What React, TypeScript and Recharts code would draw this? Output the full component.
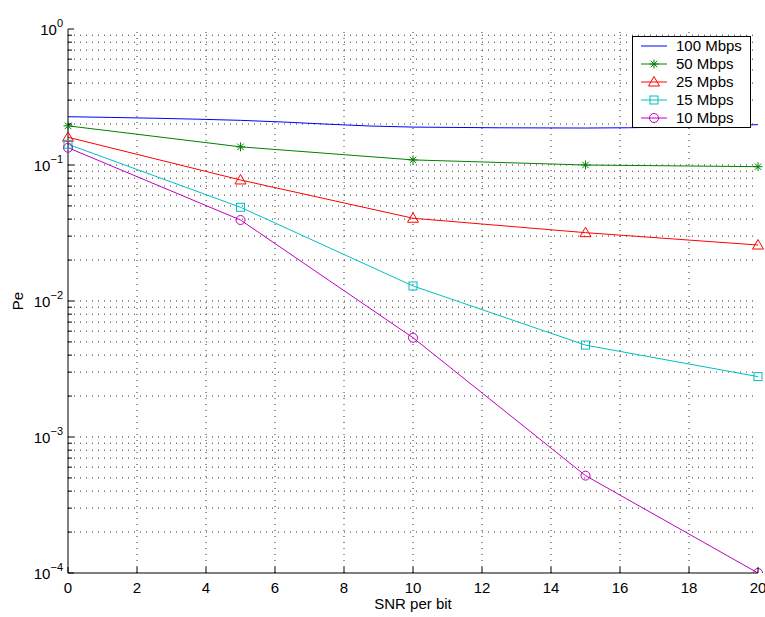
import React from "react"
import { LineChart, Line, XAxis, YAxis, ReferenceLine, Legend } from "recharts"

// SNR per bit (dB) and Pe
const snr = [0, 5, 10, 15, 20]
const pe100 = [0.2265, 0.213, 0.19, 0.187, 0.198]
const pe50 = [0.194, 0.136, 0.109, 0.1, 0.0972]
const pe25 = [0.16, 0.0776, 0.0406, 0.0318, 0.0258]
const pe15 = [0.142, 0.0489, 0.0129, 0.00474, 0.00278]
const pe10 = [0.134, 0.0394, 0.00537, 0.00052, 0.0001]

const xTicks = [0, 2, 4, 6, 8, 10, 12, 14, 16, 18, 20]
const decades = [-4, -3, -2, -1, 0]
const yTicks = decades.flatMap(d =>
  d === 0 ? [1] : [1, 2, 3, 4, 5, 6, 7, 8, 9].map(m => m * Math.pow(10, d))
)

const FONT = "'Liberation Sans', Arial, Helvetica, sans-serif"
const FS = 15

type MarkerKind = "none" | "star" | "triangle" | "square" | "circle"

const series: { key: string; name: string; color: string; marker: MarkerKind; values: number[] }[] = [
  { key: "r100", name: "100 Mbps", color: "#0000ff", marker: "none", values: pe100 },
  { key: "r50", name: "50 Mbps", color: "#008000", marker: "star", values: pe50 },
  { key: "r25", name: "25 Mpbs", color: "#ff0000", marker: "triangle", values: pe25 },
  { key: "r15", name: "15 Mbps", color: "#00bfbf", marker: "square", values: pe15 },
  { key: "r10", name: "10 Mbps", color: "#bf00bf", marker: "circle", values: pe10 }
]

const chartData = snr.map((x, i) => {
  const row: Record<string, number> = { snr: x }
  series.forEach(s => {
    row[s.key] = s.values[i]
  })
  return row
})

function Marker({ kind, cx, cy, color }: { kind: MarkerKind; cx: number; cy: number; color: string }) {
  if (kind === "star") {
    const r = 4.5
    const d = r * 0.72
    return (
      <g stroke={color} strokeWidth={1}>
        <line x1={cx - r} y1={cy} x2={cx + r} y2={cy} />
        <line x1={cx} y1={cy - r} x2={cx} y2={cy + r} />
        <line x1={cx - d} y1={cy - d} x2={cx + d} y2={cy + d} />
        <line x1={cx - d} y1={cy + d} x2={cx + d} y2={cy - d} />
      </g>
    )
  }
  if (kind === "triangle") {
    return (
      <polygon
        points={`${cx},${cy - 5.5} ${cx + 5.5},${cy + 4} ${cx - 5.5},${cy + 4}`}
        fill="none"
        stroke={color}
        strokeWidth={1}
      />
    )
  }
  if (kind === "square") {
    return <rect x={cx - 4} y={cy - 4} width={8} height={8} fill="none" stroke={color} strokeWidth={1} />
  }
  if (kind === "circle") {
    return <circle cx={cx} cy={cy} r={4.5} fill="none" stroke={color} strokeWidth={1} />
  }
  return null
}

function isDecade(v: number) {
  const l = Math.log10(v)
  return Math.abs(l - Math.round(l)) < 1e-6
}

function LeftTick(props: any) {
  const { x, y, payload } = props
  const v = payload.value
  const major = isDecade(v)
  const e = Math.round(Math.log10(v))
  return (
    <g>
      <line x1={x} y1={y} x2={x + (major ? 6 : 4)} y2={y} stroke="#000" />
      {major && (
        <text x={x - 5} y={y + 5.5} textAnchor="end" fontFamily={FONT} fontSize={FS} fill="#000">
          10
          <tspan dy={-8} fontSize={11}>
            {e === 0 ? "0" : "\u2212" + -e}
          </tspan>
        </text>
      )}
    </g>
  )
}

function RightTick(props: any) {
  const { x, y, payload } = props
  const major = isDecade(payload.value)
  return <line x1={x} y1={y} x2={x - (major ? 6 : 4)} y2={y} stroke="#000" />
}

function BottomTick(props: any) {
  const { x, y, payload } = props
  return (
    <g>
      <line x1={x} y1={y} x2={x} y2={y - 6} stroke="#000" />
      <text x={x} y={y + 20} textAnchor="middle" fontFamily={FONT} fontSize={FS} fill="#000">
        {payload.value}
      </text>
    </g>
  )
}

function TopTick(props: any) {
  const { x, y } = props
  return <line x1={x} y1={y} x2={x} y2={y + 6} stroke="#000" />
}

function LegendBox() {
  return (
    <div
      style={{
        border: "1px solid #000",
        background: "#fff",
        fontFamily: FONT,
        fontSize: FS,
        color: "#000",
        width: 117,
        boxSizing: "content-box"
      }}
    >
      {series.map(s => (
        <div key={s.key} style={{ display: "flex", alignItems: "center", height: 18 }}>
          <svg width={43} height={18} style={{ display: "block", flexShrink: 0 }}>
            <line x1={8} y1={9} x2={34} y2={9} stroke={s.color} strokeWidth={1} />
            <Marker kind={s.marker} cx={21} cy={9} color={s.color} />
          </svg>
          <span style={{ lineHeight: "18px", whiteSpace: "nowrap" }}>{s.name}</span>
        </div>
      ))}
    </div>
  )
}

export default function App() {
  return (
    <div style={{ position: "absolute", left: 0, top: 0, background: "#fff" }}>
      <LineChart
        width={765}
        height={617}
        data={chartData}
        margin={{ top: 29, right: 7, bottom: 0, left: 0 }}
      >
        <XAxis
          xAxisId="bottom"
          dataKey="snr"
          type="number"
          domain={[0, 20]}
          ticks={xTicks}
          interval={0}
          height={44}
          tickLine={false}
          tickSize={0}
          tickMargin={0}
          tick={<BottomTick />}
          axisLine={{ stroke: "#000" }}
          label={(p: any) => (
            <text
              x={p.viewBox.x + p.viewBox.width / 2}
              y={p.viewBox.y + 36}
              textAnchor="middle"
              fontFamily={FONT}
              fontSize={FS}
              fill="#000"
            >
              SNR per bit
            </text>
          )}
        />
        <XAxis
          xAxisId="top"
          orientation="top"
          dataKey="snr"
          type="number"
          domain={[0, 20]}
          ticks={xTicks}
          interval={0}
          height={0}
          tickLine={false}
          tickSize={0}
          tickMargin={0}
          tick={<TopTick />}
          axisLine={{ stroke: "#000" }}
          label={(p: any) => (
            <text
              x={p.viewBox.x + p.viewBox.width / 2}
              y={18}
              textAnchor="middle"
              fontFamily={FONT}
              fontSize={FS}
              fill="#000"
            >
              Pe vs. SNR in single{"\u2212"}band design, 3 rake fingers
            </text>
          )}
        />
        <YAxis
          yAxisId="left"
          scale="log"
          domain={[0.0001, 1]}
          ticks={yTicks}
          interval={0}
          allowDataOverflow
          width={68}
          tickLine={false}
          tickSize={0}
          tickMargin={0}
          tick={<LeftTick />}
          axisLine={{ stroke: "#000" }}
          label={(p: any) => (
            <text
              x={23}
              y={p.viewBox.y + p.viewBox.height / 2}
              transform={`rotate(-90, 23, ${p.viewBox.y + p.viewBox.height / 2})`}
              textAnchor="middle"
              fontFamily={FONT}
              fontSize={FS}
              fill="#000"
            >
              Pe
            </text>
          )}
        />
        <YAxis
          yAxisId="right"
          orientation="right"
          scale="log"
          domain={[0.0001, 1]}
          ticks={yTicks}
          interval={0}
          allowDataOverflow
          width={0}
          tickLine={false}
          tickSize={0}
          tickMargin={0}
          tick={<RightTick />}
          axisLine={{ stroke: "#000" }}
        />
        {yTicks
          .filter(v => v > 0.0001 && v < 1)
          .map(v => (
            <ReferenceLine
              key={"gy" + v}
              xAxisId="bottom"
              yAxisId="left"
              y={v}
              stroke="#333"
              strokeDasharray="1 5"
            />
          ))}
        {xTicks
          .filter(v => v > 0 && v < 20)
          .map(v => (
            <ReferenceLine
              key={"gx" + v}
              xAxisId="bottom"
              yAxisId="left"
              x={v}
              stroke="#333"
              strokeDasharray="1 5"
            />
          ))}
        {series.map(s => (
          <Line
            key={s.key}
            xAxisId="bottom"
            yAxisId="left"
            dataKey={s.key}
            name={s.name}
            type={s.marker === "none" ? "monotone" : "linear"}
            stroke={s.color}
            strokeWidth={1}
            isAnimationActive={false}
            dot={
              s.marker === "none"
                ? false
                : (p: any) => (
                    <Marker key={s.key + p.index} kind={s.marker} cx={p.cx} cy={p.cy} color={s.color} />
                  )
            }
            activeDot={false}
          />
        ))}
        <Legend
          layout="vertical"
          align="center"
          verticalAlign="middle"
          content={() => <LegendBox />}
          wrapperStyle={{ position: "absolute", left: 632, top: 36, width: 119, height: "auto" }}
        />
      </LineChart>
    </div>
  )
}
